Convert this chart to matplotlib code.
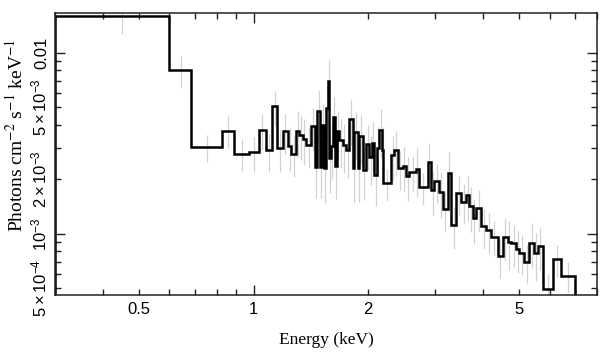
"""Unfolded X-ray spectrum: binned photon flux vs energy with 1-sigma error bars."""

import matplotlib
matplotlib.use("Agg")
import matplotlib.pyplot as plt
import numpy as np
from matplotlib.ticker import LogLocator, FuncFormatter

# bin edges (keV)
edges = [0.30, 0.60, 0.685, 0.825, 0.889, 0.970, 1.031, 1.076, 1.119, 1.154,
         1.191, 1.228, 1.256, 1.292, 1.318, 1.345, 1.373, 1.415, 1.450, 1.470,
         1.494, 1.512, 1.534, 1.550, 1.565, 1.581, 1.597, 1.613, 1.637, 1.656,
         1.680, 1.714, 1.750, 1.785, 1.821, 1.840, 1.877, 1.896, 1.934, 1.974,
         2.015, 2.043, 2.077, 2.105, 2.141, 2.176, 2.194, 2.298, 2.344, 2.391,
         2.465, 2.516, 2.567, 2.674, 2.716, 2.869, 2.928, 2.987, 3.079, 3.141,
         3.238, 3.305, 3.407, 3.512, 3.620, 3.693, 3.768, 3.846, 3.964, 4.086,
         4.212, 4.384, 4.519, 4.658, 4.755, 4.901, 5.000, 5.153, 5.312, 5.475,
         5.585, 5.757, 6.116, 6.435, 7.00]

# photons cm^-2 s^-1 keV^-1
flux = [0.0159, 8.02e-3, 3.01e-3, 3.72e-3, 2.77e-3, 2.82e-3, 3.75e-3, 2.89e-3,
        5.06e-3, 2.97e-3, 3.68e-3, 3.06e-3, 2.77e-3, 3.71e-3, 3.52e-3, 3.35e-3,
        3.10e-3, 3.92e-3, 2.35e-3, 4.80e-3, 2.35e-3, 4.00e-3, 2.31e-3, 4.93e-3,
        7.00e-3, 2.63e-3, 3.04e-3, 4.40e-3, 2.36e-3, 3.68e-3, 3.31e-3, 3.10e-3,
        2.91e-3, 4.29e-3, 2.31e-3, 3.64e-3, 2.31e-3, 3.48e-3, 2.26e-3, 3.14e-3,
        2.66e-3, 3.18e-3, 2.12e-3, 2.99e-3, 3.75e-3, 2.89e-3, 1.91e-3, 2.73e-3,
        2.89e-3, 2.31e-3, 2.37e-3, 2.09e-3, 2.21e-3, 2.28e-3, 1.81e-3, 2.51e-3,
        1.75e-3, 1.95e-3, 1.71e-3, 1.37e-3, 2.18e-3, 1.12e-3, 1.68e-3, 1.51e-3,
        1.64e-3, 1.42e-3, 1.22e-3, 1.39e-3, 1.10e-3, 1.05e-3, 9.66e-4, 7.56e-4,
        9.59e-4, 9.07e-4, 8.89e-4, 8.23e-4, 7.88e-4, 7.03e-4, 8.95e-4, 7.82e-4,
        8.58e-4, 4.95e-4, 7.25e-4, 5.86e-4]

# fractional 1-sigma errors
rel_err = [0.20, 0.20, 0.17, 0.20, 0.20, 0.22, 0.22, 0.24, 0.22, 0.26,
           0.25, 0.27, 0.26, 0.28, 0.27, 0.28, 0.25, 0.27, 0.33, 0.30,
           0.33, 0.30, 0.36, 0.33, 0.30, 0.36, 0.34, 0.30, 0.34, 0.30,
           0.30, 0.30, 0.30, 0.28, 0.36, 0.30, 0.35, 0.30, 0.32, 0.28,
           0.30, 0.30, 0.33, 0.30, 0.30, 0.35, 0.20, 0.28, 0.28, 0.24,
           0.28, 0.27, 0.22, 0.30, 0.20, 0.27, 0.27, 0.24, 0.28, 0.25,
           0.30, 0.26, 0.24, 0.25, 0.28, 0.28, 0.28, 0.26, 0.25, 0.25,
           0.22, 0.24, 0.26, 0.30, 0.26, 0.26, 0.25, 0.24, 0.28, 0.30,
           0.26, 0.22, 0.20, 0.20]

x_labels = {0.5: "0.5", 1: "1", 2: "2", 5: "5"}
y_labels = {5e-4: r"$5\times10^{-4}$", 1e-3: r"$10^{-3}$", 2e-3: r"$2\times10^{-3}$",
            5e-3: r"$5\times10^{-3}$", 1e-2: "0.01"}

plt.rcParams["mathtext.fontset"] = "custom"
plt.rcParams["mathtext.rm"] = "Liberation Sans"
plt.rcParams["mathtext.it"] = "Liberation Sans:italic"
plt.rcParams["font.family"] = ["Liberation Sans", "DejaVu Sans"]

e = np.array(edges)
f = np.array(flux)
centers = 0.5 * (e[:-1] + e[1:])

fig = plt.figure(figsize=(6.08, 3.57), dpi=100)
ax = fig.add_axes([0.0905, 0.1737, 0.8915, 0.7899])

ax.errorbar(centers, f, yerr=f * np.array(rel_err), fmt="none",
            ecolor="#d2d2d2", elinewidth=0.9, zorder=1)
ax.stairs(f, e, baseline=1e-6, color="black", linewidth=1.8, zorder=2)

ax.set_xscale("log")
ax.set_yscale("log")
ax.set_xlim(0.3, 8.0)
ax.set_ylim(4.6e-4, 0.0166)


def pick(table):
    def fmt(v, pos):
        for k, s in table.items():
            if abs(v - k) < 1e-3 * k:
                return s
        return ""
    return FuncFormatter(fmt)


for axis, table in ((ax.xaxis, x_labels), (ax.yaxis, y_labels)):
    axis.set_major_locator(LogLocator(base=10))
    axis.set_minor_locator(LogLocator(base=10, subs=np.arange(2, 10)))
    axis.set_major_formatter(pick(table))
    axis.set_minor_formatter(pick(table))

ax.tick_params(which="both", direction="in", top=True, right=True,
               labelsize=12, width=1, colors="#222222", labelcolor="black")
ax.tick_params(which="major", length=7)
ax.tick_params(which="minor", length=4)
ax.tick_params(axis="x", which="both", pad=5)
ax.tick_params(axis="y", which="both", pad=4)
for lab in ax.get_yticklabels(which="both"):
    lab.set_rotation(90)
    lab.set_va("center")

for sp in ax.spines.values():
    sp.set_linewidth(1.1)
    sp.set_color("#222222")

serif = ["Liberation Serif", "DejaVu Serif"]
ax.set_xlabel("Energy (keV)", family=serif, fontsize=12.5, labelpad=11)
ax.set_ylabel(r"Photons cm$^{-2}$ s$^{-1}$ keV$^{-1}$", family=serif,
              fontsize=14, math_fontfamily="stix")
ax.yaxis.set_label_coords(-0.053, 0.565)

fig.savefig("out.png", dpi=100)
